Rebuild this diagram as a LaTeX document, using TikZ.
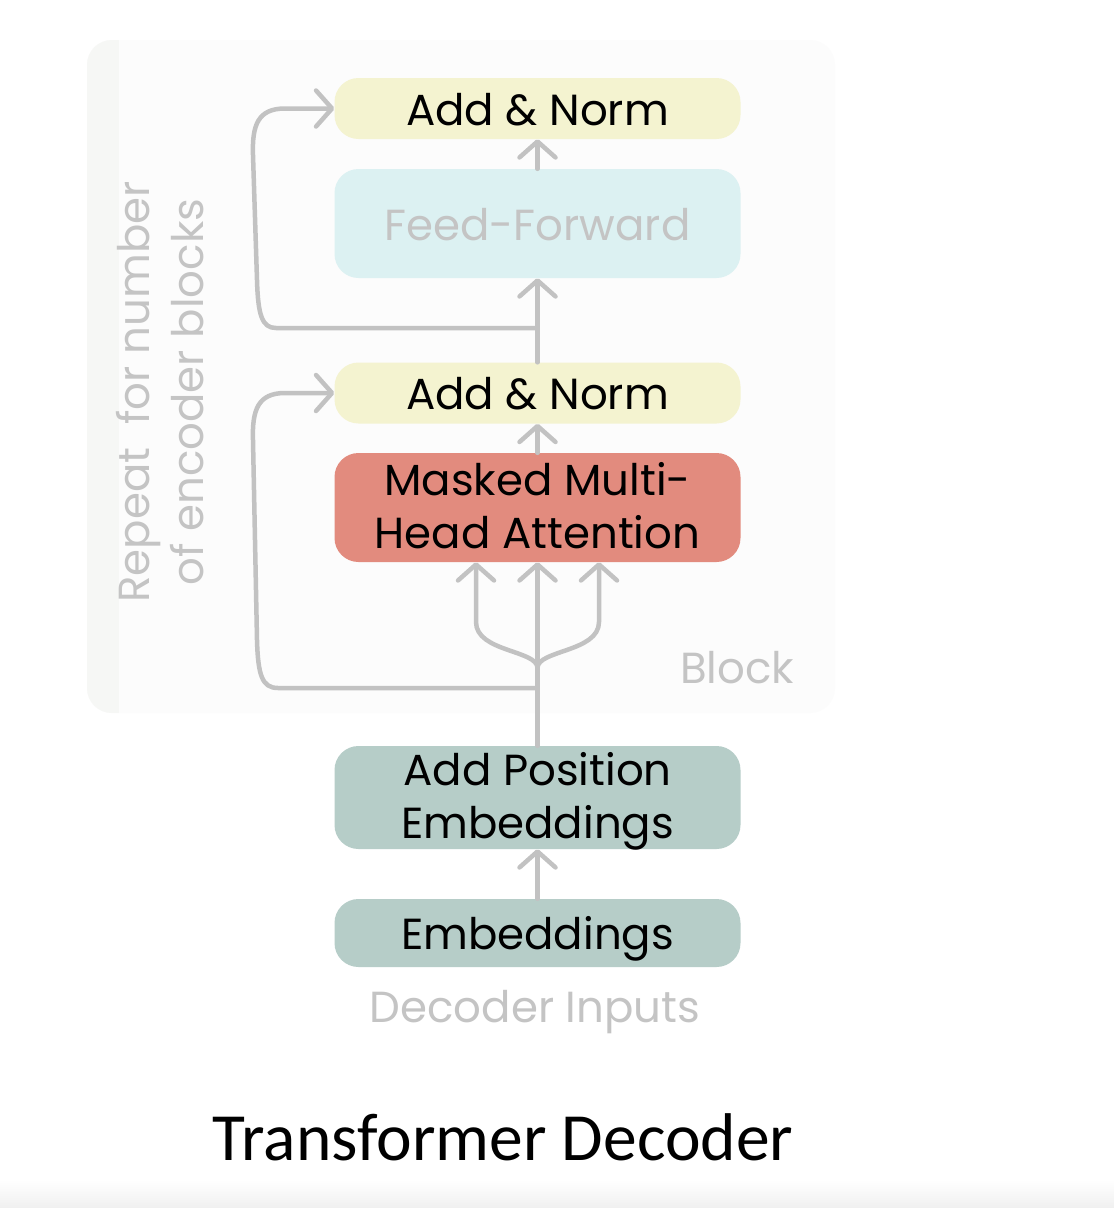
\documentclass[tikz,border=0pt]{standalone}
\usepackage{fontspec}
\setmainfont{Poppins}
\newfontfamily\titlefont{Carlito}
\usetikzlibrary{arrows.meta}
\definecolor{lnc}{HTML}{C2C2C2}
\definecolor{bgc}{HTML}{FCFCFC}
\definecolor{stripc}{HTML}{F6F7F5}
\definecolor{normc}{HTML}{F4F3D0}
\definecolor{ffc}{HTML}{DCF1F2}
\definecolor{mhac}{HTML}{E28B7E}
\definecolor{embc}{HTML}{B6CDC8}
\definecolor{greytext}{HTML}{C4C4C4}
\tikzset{
  box/.style={draw=none, rounded corners=24pt, minimum width=406pt, align=center,
              inner sep=0pt, font=\fontsize{43.5}{53}\selectfont, text=black,
              text height=33pt, text depth=0pt},
  conn/.style={draw=lnc, line width=4.5pt, line cap=round, line join=round},
  arr/.style={conn, -{Straight Barb[length=16pt, width=36pt, line width=4.5pt, line cap=round, line join=round]}},
  greylabel/.style={text=greytext, font=\fontsize{43.5}{52}\selectfont, inner sep=0pt},
}
\begin{document}
\begin{tikzpicture}[x=1pt, y=-1pt]
\useasboundingbox (0,0) rectangle (1114,1208);
\fill[white] (0,0) rectangle (1114,1208);
% bottom faint shading
\shade[top color=white, bottom color=black!6] (0,1180) rectangle (1114,1208);
% block background
\fill[bgc, rounded corners=25pt] (87,40) rectangle (835,713);
\begin{scope}
\clip[rounded corners=25pt] (87,40) rectangle (835,713);
\fill[stripc] (87,40) rectangle (119,713);
\end{scope}

% nodes
\node[box, fill=normc, minimum height=61pt] (an1) at (537.5,108.5) {Add \& Norm};
\node[box, fill=ffc, minimum height=109pt, text=greytext] (ff) at (537.5,223.5) {Feed-Forward};
\node[box, fill=normc, minimum height=61pt] (an2) at (537.5,393) {Add \& Norm};
\node[box, fill=mhac, minimum height=109pt, text height=86pt, text depth=4pt] (mha) at (537.5,507.5) {Masked Multi-\\Head Attention};
\node[box, fill=embc, minimum height=103pt, text height=86pt, text depth=5pt] (ape) at (537.5,797.5) {Add Position\\Embeddings};
\node[box, fill=embc, minimum height=68pt] (emb) at (537.5,933) {Embeddings};

\node[greylabel] (blk) at (737,668) {Block};
\node[greylabel] (din) at (535,1012) {Decoder Inputs};
\node[greylabel, rotate=90, align=center, font=\fontsize{43.5}{54}\selectfont] (rep) at (160,392)
  {Repeat \ for number\\of encoder blocks};
\node[font=\titlefont\fontsize{67.5}{70}\selectfont, inner sep=0pt] (title) at (503,1137) {Transformer Decoder};

% branch coordinates
\coordinate (b1) at (537.5,688);
\coordinate (b2) at (537.5,668);
\coordinate (b3) at (537.5,328);
\coordinate (bl) at (476,622);
\coordinate (br) at (599,622);

% connectors
\draw[arr] (emb.north) -- (ape.south);
\draw[conn] (ape.north) -- (b1);
\draw[arr] (b1) -- (mha.south);
\draw[arr] (b2) .. controls (537.5,650) and (476,652) .. (bl) -- (bl |- mha.south);
\draw[arr] (b2) .. controls (537.5,650) and (599,652) .. (br) -- (br |- mha.south);
\draw[arr] (b1) -- (278,688) .. controls (262,688) and (258,675) .. (257,640)
   -- (253,440) .. controls (252,410) and (258,393) .. (285,393) -- (an2.west);
\draw[arr] (mha.north) -- (an2.south);
\draw[arr] (an2.north) -- (ff.south);
\draw[arr] (b3) -- (276,328) .. controls (262,328) and (258,315) .. (257,280)
   -- (253,155) .. controls (252,125) and (258,108.5) .. (285,108.5) -- (an1.west);
\draw[arr] (ff.north) -- (an1.south);
\end{tikzpicture}
\end{document}
